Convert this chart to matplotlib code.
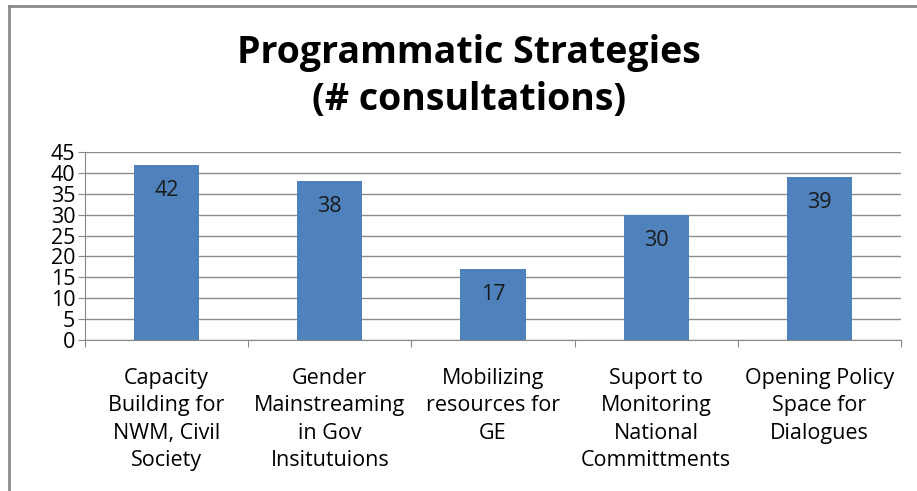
import matplotlib.pyplot as plt
from matplotlib.lines import Line2D

categories = ['Capacity\nBuilding for\nNWM, Civil\nSociety',
              'Gender\nMainstreaming\nin Gov\nInsitutuions',
              'Mobilizing\nresources for\nGE',
              'Suport to\nMonitoring\nNational\nCommittments',
              'Opening Policy\nSpace for\nDialogues']
values = [42, 38, 17, 30, 39]
yticks = [0, 5, 10, 15, 20, 25, 30, 35, 40, 45]

plt.rcParams['font.family'] = ['Open Sans', 'DejaVu Sans']

fig = plt.figure(figsize=(9.17, 4.91), dpi=100)
ax = fig.add_axes([0.0927, 0.3075, 0.8899, 0.3829])

x = range(len(values))
bars = ax.bar(x, values, width=0.4, color='#4F81BD', zorder=3)
for b, v in zip(bars, values):
    ax.annotate(str(v), (b.get_x() + b.get_width() / 2, v),
                xytext=(0, -18.5), textcoords='offset points',
                ha='center', va='center', fontsize=15.5, color='#1a1a1a')

ax.set_xlim(-0.5, len(values) - 0.5)
ax.set_ylim(0, 45)
ax.set_yticks(yticks)
ax.tick_params(axis='y', labelsize=15.5, length=5, color='#888888', pad=2)
ax.yaxis.grid(True, color='#8c8c8c', linewidth=1, zorder=0)

# category labels between boundary ticks
ax.set_xticks([i + 0.5 for i in range(-1, len(values))])
ax.set_xticklabels([])
ax.set_xticks(list(x), minor=True)
ax.set_xticklabels(categories, minor=True, fontsize=15.5, linespacing=1.4)
ax.tick_params(axis='x', which='minor', length=0, pad=20)
ax.tick_params(axis='x', which='major', length=5, color='#888888')

for s in ['top', 'right']:
    ax.spines[s].set_visible(False)
for s in ['left', 'bottom']:
    ax.spines[s].set_color('#888888')

fig.text(0.511, 0.893, 'Programmatic Strategies', ha='center', va='center',
         fontsize=27, fontweight='bold')
fig.text(0.511, 0.797, '(# consultations)', ha='center', va='center',
         fontsize=27, fontweight='bold')

# outer frame (top and left visible)
fig.add_artist(Line2D([0.0098, 1.0], [0.9878, 0.9878], color='#8a8a8a', linewidth=2))
fig.add_artist(Line2D([0.0098, 0.0098], [0.0, 0.9878], color='#8a8a8a', linewidth=2))

fig.savefig('out.png', dpi=100)
